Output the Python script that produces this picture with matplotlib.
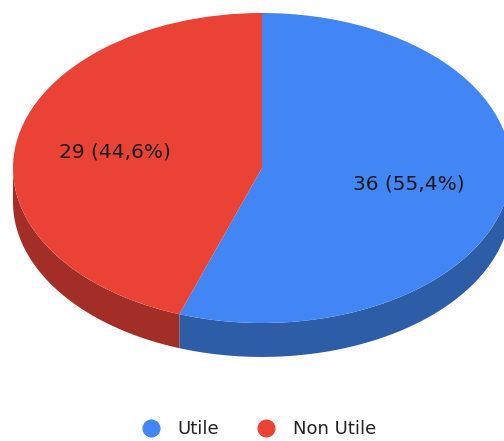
import numpy as np
import matplotlib
matplotlib.use("Agg")
import matplotlib.pyplot as plt
from matplotlib.lines import Line2D

# data
labels = ["Utile", "Non Utile"]
counts = [36, 29]
top_colors = ["#4285F4", "#EA4335"]
side_colors = ["#2E5DA8", "#A32E27"]

fig = plt.figure(figsize=(5.04, 4.41), dpi=100)
ax = fig.add_axes([0, 0, 1, 1])

total = sum(counts)
depth = 0.219  # thickness of the tilted disc, in radius units (vertical)


def fmt(pct):
    n = int(round(pct * total / 100))
    return f"{n} ({pct:.1f}%)".replace(".", ",")


wedges, texts, autotexts = ax.pie(
    counts, colors=top_colors, startangle=90, counterclock=False,
    autopct=fmt, pctdistance=0.6,
    textprops=dict(fontsize=14.5, color="#1a1a1a"),
    wedgeprops=dict(linewidth=0, zorder=3),
)
for t in autotexts:
    t.set_zorder(5)

# side walls for the front half of each slice
start = 90.0
for val, col in zip(counts, side_colors):
    span = val / total * 360.0
    t = np.radians(np.linspace(start - span, start, 600))
    t = t[np.sin(t) <= 0]
    if len(t) > 1:
        xs = np.cos(t)
        ys = np.sin(t)
        px = np.concatenate([xs, xs[::-1]])
        py = np.concatenate([ys, ys[::-1] - depth])
        ax.fill(px, py, color=col, linewidth=0, zorder=1)
    start -= span

ax.set_aspect("auto")
ax.set_xlim(-262 / 249, (504 - 262) / 249)
ax.set_ylim(-273 / 155, (441 - 273) / 155)
ax.axis("off")

handles = [Line2D([], [], marker="o", linestyle="none", markersize=12,
                  markerfacecolor=c, markeredgecolor=c) for c in top_colors]
fig.legend(handles, labels, loc="center", bbox_to_anchor=(0.505, 0.027),
           ncol=2, frameon=False, fontsize=13, handletextpad=0.5,
           columnspacing=1.6, labelcolor="#222222")

fig.savefig("out.png", dpi=100)
